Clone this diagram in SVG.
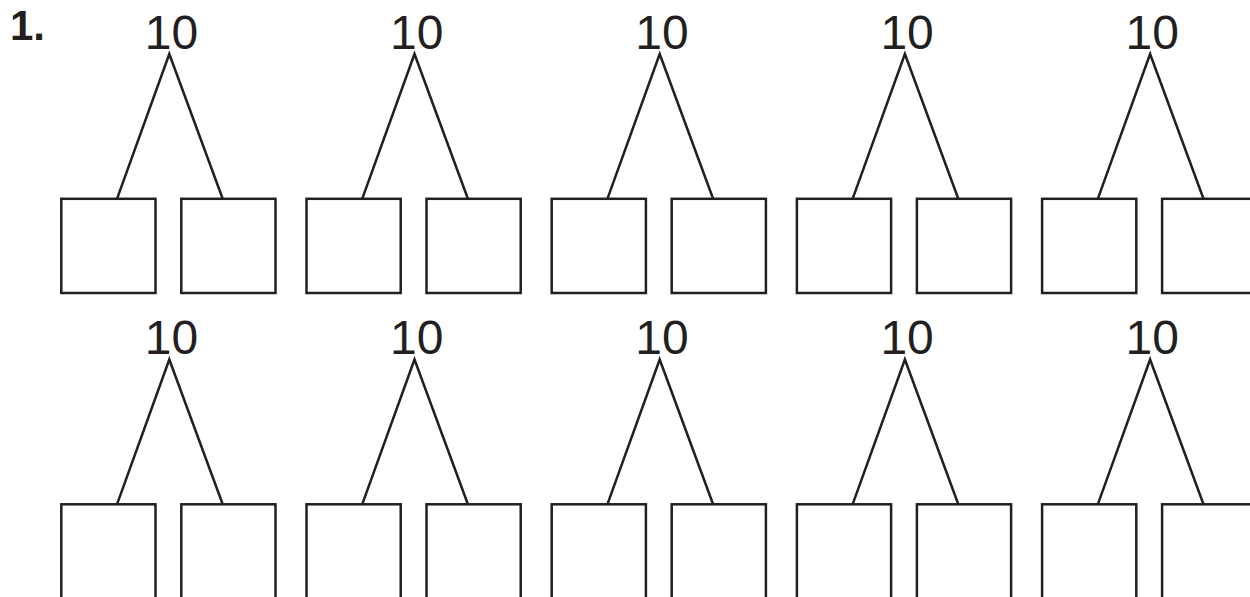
<svg xmlns="http://www.w3.org/2000/svg" width="1250" height="597" viewBox="0 0 1250 597">
<style>
.bg{fill:#ffffff}
.box{fill:none;stroke:#231f20;stroke-width:2.5}
.edge{fill:none;stroke:#231f20;stroke-width:2.5;stroke-linejoin:miter;stroke-miterlimit:20}
.num{font-family:"Liberation Sans",Arial,sans-serif;font-size:48px;fill:#231f20;text-anchor:middle}
.label{font-family:"Liberation Sans",Arial,sans-serif;font-size:42px;font-weight:bold;fill:#231f20}
</style>
<rect class="bg" x="0" y="0" width="1250" height="597"/>
<g id="problem-label"><text class="label" x="10" y="39.5">1.</text></g>

<g id="connectors">
<path class="edge" d="M117 198.8 L169.3 54 L222.7 198.8"/>
<path class="edge" d="M362.2 198.8 L414.5 54 L467.9 198.8"/>
<path class="edge" d="M607.4 198.8 L659.7 54 L713.1 198.8"/>
<path class="edge" d="M852.6 198.8 L904.9 54 L958.3 198.8"/>
<path class="edge" d="M1097.8 198.8 L1150.1 54 L1203.5 198.8"/>
<path class="edge" d="M117 504.3 L169.3 359.5 L222.7 504.3"/>
<path class="edge" d="M362.2 504.3 L414.5 359.5 L467.9 504.3"/>
<path class="edge" d="M607.4 504.3 L659.7 359.5 L713.1 504.3"/>
<path class="edge" d="M852.6 504.3 L904.9 359.5 L958.3 504.3"/>
<path class="edge" d="M1097.8 504.3 L1150.1 359.5 L1203.5 504.3"/>
</g>

<g id="r1c1-top"><text class="num" x="171.5" y="48.5">10</text></g>
<g id="r1c1-left"><rect class="box" x="61.3" y="198.8" width="94.2" height="94.2"/></g>
<g id="r1c1-right"><rect class="box" x="181.3" y="198.8" width="94.2" height="94.2"/></g>

<g id="r1c2-top"><text class="num" x="416.7" y="48.5">10</text></g>
<g id="r1c2-left"><rect class="box" x="306.5" y="198.8" width="94.2" height="94.2"/></g>
<g id="r1c2-right"><rect class="box" x="426.5" y="198.8" width="94.2" height="94.2"/></g>

<g id="r1c3-top"><text class="num" x="661.9" y="48.5">10</text></g>
<g id="r1c3-left"><rect class="box" x="551.7" y="198.8" width="94.2" height="94.2"/></g>
<g id="r1c3-right"><rect class="box" x="671.7" y="198.8" width="94.2" height="94.2"/></g>

<g id="r1c4-top"><text class="num" x="907.1" y="48.5">10</text></g>
<g id="r1c4-left"><rect class="box" x="796.9" y="198.8" width="94.2" height="94.2"/></g>
<g id="r1c4-right"><rect class="box" x="916.9" y="198.8" width="94.2" height="94.2"/></g>

<g id="r1c5-top"><text class="num" x="1152.3" y="48.5">10</text></g>
<g id="r1c5-left"><rect class="box" x="1042.1" y="198.8" width="94.2" height="94.2"/></g>
<g id="r1c5-right"><rect class="box" x="1162.1" y="198.8" width="94.2" height="94.2"/></g>

<g id="r2c1-top"><text class="num" x="171.5" y="354">10</text></g>
<g id="r2c1-left"><rect class="box" x="61.3" y="504.3" width="94.2" height="94.2"/></g>
<g id="r2c1-right"><rect class="box" x="181.3" y="504.3" width="94.2" height="94.2"/></g>

<g id="r2c2-top"><text class="num" x="416.7" y="354">10</text></g>
<g id="r2c2-left"><rect class="box" x="306.5" y="504.3" width="94.2" height="94.2"/></g>
<g id="r2c2-right"><rect class="box" x="426.5" y="504.3" width="94.2" height="94.2"/></g>

<g id="r2c3-top"><text class="num" x="661.9" y="354">10</text></g>
<g id="r2c3-left"><rect class="box" x="551.7" y="504.3" width="94.2" height="94.2"/></g>
<g id="r2c3-right"><rect class="box" x="671.7" y="504.3" width="94.2" height="94.2"/></g>

<g id="r2c4-top"><text class="num" x="907.1" y="354">10</text></g>
<g id="r2c4-left"><rect class="box" x="796.9" y="504.3" width="94.2" height="94.2"/></g>
<g id="r2c4-right"><rect class="box" x="916.9" y="504.3" width="94.2" height="94.2"/></g>

<g id="r2c5-top"><text class="num" x="1152.3" y="354">10</text></g>
<g id="r2c5-left"><rect class="box" x="1042.1" y="504.3" width="94.2" height="94.2"/></g>
<g id="r2c5-right"><rect class="box" x="1162.1" y="504.3" width="94.2" height="94.2"/></g>
</svg>
